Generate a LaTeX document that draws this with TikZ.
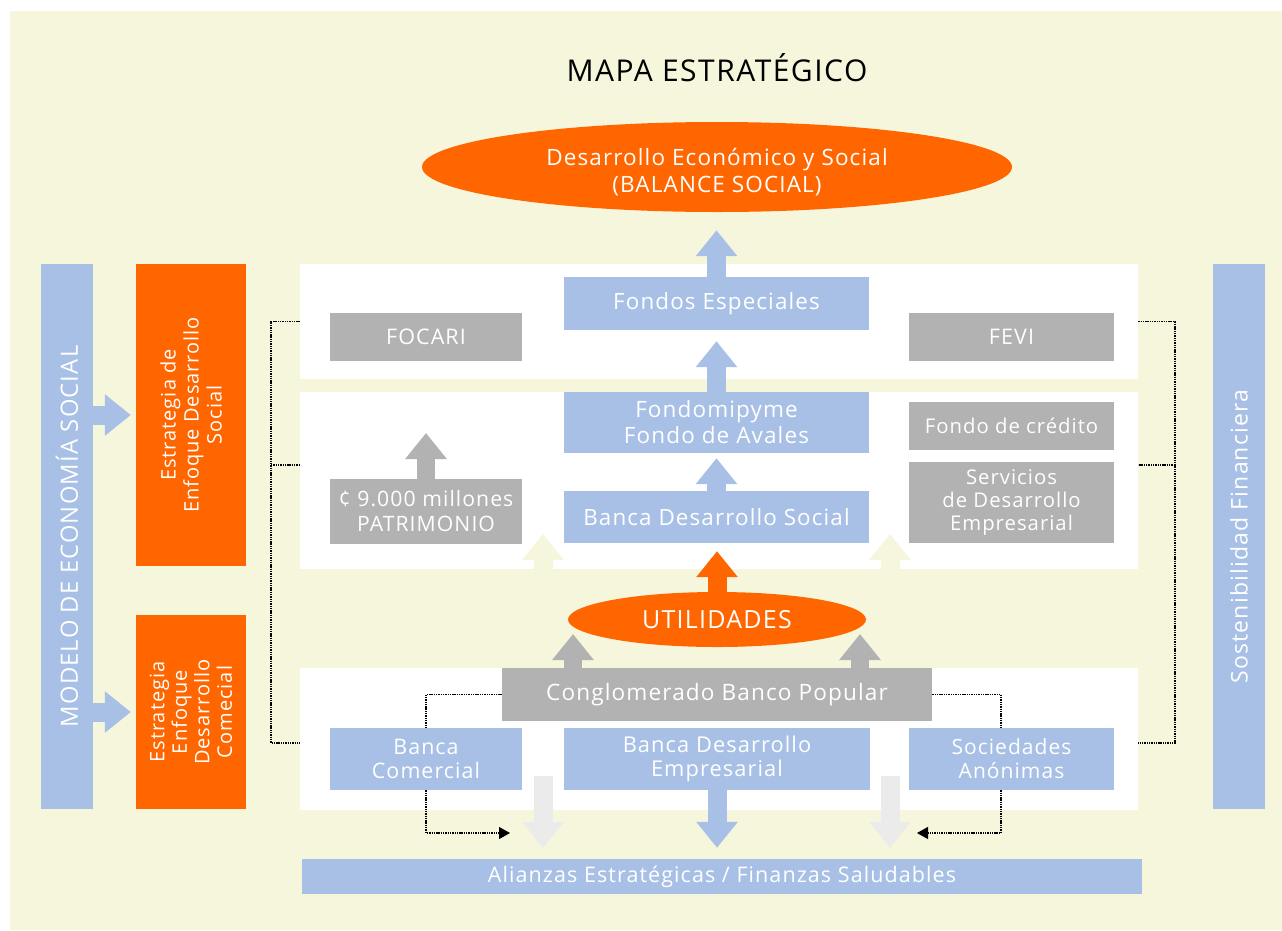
\documentclass[tikz,border=0pt]{standalone}
\usepackage{fontspec}
\setmainfont{Open Sans}[LetterSpace=5]
\usetikzlibrary{shapes.geometric,arrows.meta}
\definecolor{cbg}{HTML}{F6F6DC}
\definecolor{corange}{HTML}{FF6600}
\definecolor{cblue}{HTML}{A8C0E6}
\definecolor{cgray}{HTML}{B2B2B2}
\definecolor{clgray}{HTML}{EBEBEB}
\newcommand\myfs[2]{\fontsize{#1}{#2}\selectfont}
\begin{document}
\begin{tikzpicture}[x=1pt,y=-1pt,
  box/.style={rectangle, inner sep=0pt, text=white, align=center, font=\myfs{22}{25}},
  bluebox/.style={box, fill=cblue},
  graybox/.style={box, fill=cgray},
  orbox/.style={box, fill=corange},
  panel/.style={rectangle, fill=white, inner sep=0pt},
  blk/.style={line width=19pt, -{Triangle[length=26pt,width=40pt]}},
  dots/.style={line width=1.1pt, dash pattern=on 1.4pt off 0.9pt},
  dtip/.style={-{Triangle[length=11pt,width=12pt]}},
]
\useasboundingbox (0,0) rectangle (1282,930);
\fill[cbg] (10,11) rectangle (1282,930);

\node[font=\myfs{30}{34}] (title) at (717,68) {MAPA ESTRATÉGICO};
\node[ellipse, fill=corange, minimum width=590pt, minimum height=90pt, inner sep=0pt] (bal) at (717,167) {};
\node[text=white, align=center, inner sep=0pt, font=\myfs{22.5}{27}] (baltext) at ([yshift=-5pt]bal.center) {Desarrollo Económico y Social\\(BALANCE SOCIAL)};

% panels
\node[panel, minimum width=838pt, minimum height=115pt] (p1) at (719,321.5) {};
\node[panel, minimum width=838pt, minimum height=177pt] (p2) at (719,480.5) {};
\node[panel, minimum width=838pt, minimum height=142pt] (p3) at (719,739) {};

% side bars
\node[box, fill=cblue, rotate=90, minimum width=545pt, minimum height=52pt, font=\myfs{23.8}{28}] (modelo) at (67,536.5) {MODELO DE ECONOMÍA SOCIAL};
\node[box, fill=cblue, rotate=90, minimum width=545pt, minimum height=52pt, font=\myfs{23}{27}] (sost) at (1239,536.5) {Sostenibilidad Financiera};
\node[orbox, rotate=90, minimum width=302pt, minimum height=110pt, font=\myfs{20}{23}] (est1) at (191,415) {Estrategia de\\Enfoque Desarrollo\\Social};
\node[orbox, rotate=90, minimum width=194pt, minimum height=110pt, font=\myfs{20}{22.5}] (est2) at (191,712) {Estrategia\\Enfoque\\Desarrollo\\Comecial};

% boxes
\node[bluebox, minimum width=305pt, minimum height=53pt, font=\myfs{22.4}{26}] (fe) at (716.5,303.5) {Fondos Especiales};
\node[graybox, minimum width=192pt, minimum height=48pt, font=\myfs{21.5}{25}] (focari) at (426,337) {FOCARI};
\node[graybox, minimum width=205pt, minimum height=48pt, font=\myfs{21.5}{25}] (fevi) at (1011.5,337) {FEVI};
\node[bluebox, minimum width=305pt, minimum height=61pt, font=\myfs{22.5}{26}] (fm) at (716.5,422.5) {Fondomipyme\\Fondo de Avales};
\node[bluebox, minimum width=305pt, minimum height=52pt, font=\myfs{22.4}{26}] (bds) at (716.5,517) {Banca Desarrollo Social};
\node[graybox, minimum width=192pt, minimum height=65pt, font=\myfs{21.2}{25}] (pat) at (426,511.5) {¢ 9.000 millones\\PATRIMONIO};
\node[graybox, minimum width=205pt, minimum height=48pt, font=\myfs{20.3}{24}] (fdc) at (1011.5,426) {Fondo de crédito};
\node[graybox, minimum width=205pt, minimum height=81pt, font=\myfs{20.3}{23}] (sde) at (1011.5,502.5) {Servicios\\de Desarrollo\\Empresarial};
\node[ellipse, fill=corange, minimum width=298pt, minimum height=55pt, inner sep=0pt, text=white, font=\myfs{25}{28}] (util) at (717,619.5) {UTILIDADES};
\node[graybox, minimum width=430pt, minimum height=53pt, font=\myfs{22.6}{26}] (cbp) at (717,694.5) {Conglomerado Banco Popular};
\node[bluebox, minimum width=192pt, minimum height=62pt, font=\myfs{21.4}{24}] (bc) at (426,759) {Banca\\Comercial};
\node[bluebox, minimum width=306pt, minimum height=62pt, font=\myfs{21.8}{24}] (bde) at (717,759) {Banca Desarrollo\\Empresarial};
\node[bluebox, minimum width=205pt, minimum height=62pt, font=\myfs{21}{24}] (sa) at (1011.5,759) {Sociedades\\Anónimas};
\node[bluebox, minimum width=840pt, minimum height=35pt, font=\myfs{21.5}{25}] (alli) at (722,876.5) {Alianzas Estratégicas / Finanzas Saludables};

% free ends
\coordinate (pattip) at (426,433);
\coordinate (bl1) at (543,569); \coordinate (bl1t) at (543,534);
\coordinate (br1) at (890,569); \coordinate (br1t) at (890,534);
\coordinate (gl) at (573,634); \coordinate (gr) at (860,634);
\coordinate (dl) at (543,776); \coordinate (dlt) at (543,848);
\coordinate (dr) at (890,776); \coordinate (drt) at (890,848);
\coordinate (lt) at (510,833); \coordinate (rt) at (917,833);
\coordinate (lbx) at (271,321.5); \coordinate (lbm) at (271,465);
\coordinate (rbx) at (1175,321.5); \coordinate (rbm) at (1175,465);

% block arrows
\draw[blk, draw=cblue, shorten >=18pt] (fe.north) -- (fe.north |- bal.south);
\draw[blk, draw=cblue, shorten >=11pt] (fm.north) -- (fe.south);
\draw[blk, draw=cblue, shorten >=5pt] (bds.north) -- (fm.south);
\draw[blk, draw=corange, shorten >=8pt] (util.north) -- (util.north |- bds.south);
\draw[blk, draw=cgray, line width=18pt] (pat.north) -- (pattip);
\draw[blk, draw=cbg] (bl1) -- (bl1t);
\draw[blk, draw=cbg] (br1) -- (br1t);
\draw[blk, draw=cgray, line width=18pt] (cbp.north -| gl) -- (gl);
\draw[blk, draw=cgray, line width=18pt] (cbp.north -| gr) -- (gr);
\draw[blk, draw=clgray] (dl) -- (dlt);
\draw[blk, draw=clgray] (dr) -- (drt);
\draw[blk, draw=cblue, shorten >=11pt] (bde.south) -- (bde.south |- alli.north);
\draw[blk, draw=cblue, shorten >=5pt] (modelo.south |- est1.north) -- (est1.north);
\draw[blk, draw=cblue, shorten >=5pt] (modelo.south |- est2.north) -- (est2.north);

% dotted connectors
\draw[dots] (p1.west) -- (lbx) |- ([yshift=-4pt]p3.west);
\draw[dots] (lbm) -- (lbm -| p2.west);
\draw[dots] (p1.east) -- (rbx) |- ([yshift=-4pt]p3.east);
\draw[dots] (rbm) -- (rbm -| p2.east);
\draw[dots] (cbp.west) -| (bc.north);
\draw[dots, dtip] (bc.south) |- (lt);
\draw[dots] (cbp.east) -| ([xshift=-10.5pt]sa.north);
\draw[dots, dtip] ([xshift=-10.5pt]sa.south) |- (rt);
\end{tikzpicture}
\end{document}
